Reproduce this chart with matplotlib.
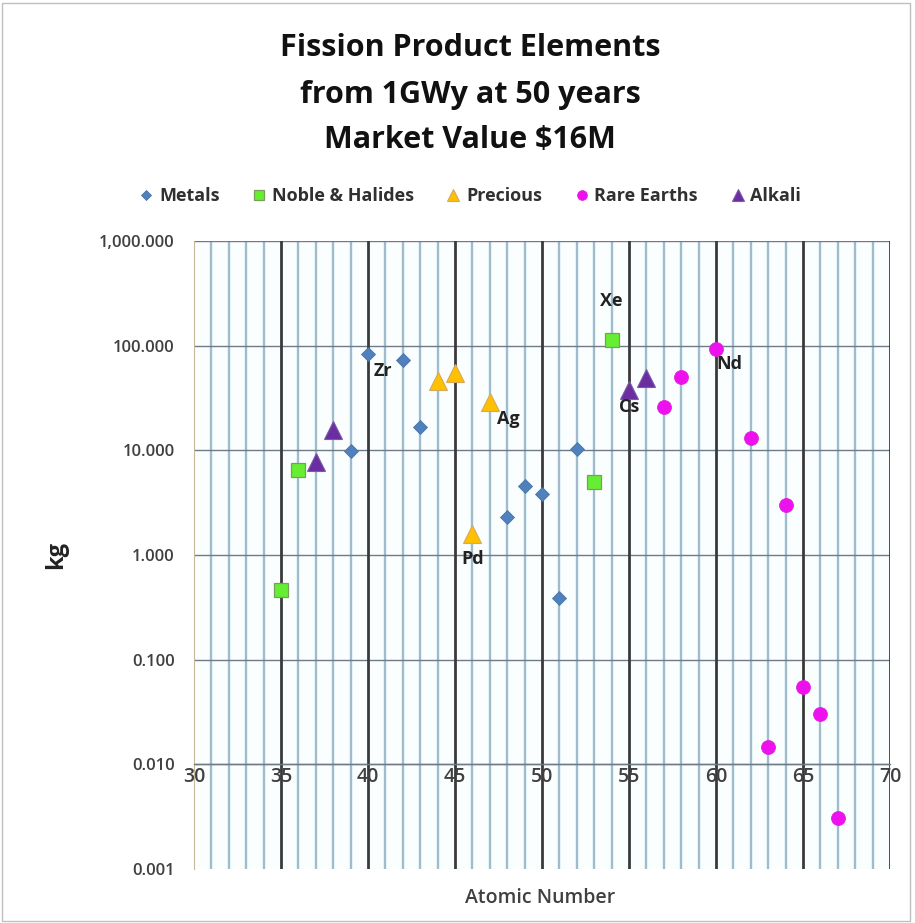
import matplotlib
matplotlib.use("Agg")
import matplotlib.pyplot as plt
import numpy as np
from matplotlib.patches import Rectangle

plt.rcParams['font.family'] = ['Open Sans', 'DejaVu Sans']

metals_x = [39, 40, 42, 43, 48, 49, 50, 51, 52]
metals_y = [9.9, 83, 73, 16.7, 2.3, 4.6, 3.8, 0.39, 10.3]
noble_x = [35, 36, 53, 54]
noble_y = [0.46, 6.5, 5.0, 113]
precious_x = [44, 45, 46, 47]
precious_y = [46, 55, 1.6, 29]
rare_x = [57, 58, 60, 62, 63, 64, 65, 66, 67]
rare_y = [26, 50, 93, 13, 0.0147, 3.0, 0.055, 0.030, 0.0031]
alkali_x = [37, 38, 55, 56]
alkali_y = [7.7, 15.7, 38, 49]

labels = {"Zr": (40, 83), "Xe": (54, 113), "Ag": (47, 29), "Pd": (46, 1.6),
          "Cs": (55, 38), "Nd": (60, 93)}
series_names = ["Metals", "Noble & Halides", "Precious", "Rare Earths", "Alkali"]
title_lines = ["Fission Product Elements", "from 1GWy at 50 years", "Market Value $16M"]
yticks = [0.001, 0.01, 0.1, 1, 10, 100, 1000]
ytick_labels = ["0.001", "0.010", "0.100", "1.000", "10.000", "100.000", "1,000.000"]
xticks = [30, 35, 40, 45, 50, 55, 60, 65, 70]

fig = plt.figure(figsize=(9.15, 9.23), dpi=100)
ax = fig.add_axes([194/915, 1-869/923, (890-194)/915, (869-241)/923])
ax.set_facecolor('#fbfeff')
ax.set_yscale('log')
ax.spines['bottom'].set_position(('data', 0.01))
ax.spines['bottom'].set_color('#6e7a86')
ax.spines['bottom'].set_linewidth(1.0)
ax.spines['top'].set_visible(False)
ax.spines['right'].set_visible(False)
ax.spines['left'].set_color('#c8b89a')
ax.spines['left'].set_linewidth(0.8)
ax.set_xlim(30, 70)
ax.set_ylim(0.001, 1000)

# gridlines
for xv in range(31, 70):
    if xv % 5 == 0:
        continue
    ax.axvline(xv, color='#e3f4fb', lw=3, zorder=0.5)
    ax.axvline(xv, color='#9db4c6', lw=1.3, zorder=0.6)
for xv in range(35, 71, 5):
    ax.axvline(xv, color='#3a3a3a', lw=2.0, zorder=0.8)
for yv in yticks[1:]:
    ax.axhline(yv, color='#6e7a86', lw=1.0, zorder=0.7)

ax.yaxis.set_minor_locator(matplotlib.ticker.NullLocator())
ax.xaxis.set_minor_locator(matplotlib.ticker.NullLocator())
ax.set_yticks(yticks)
ax.set_yticklabels(ytick_labels, fontsize=12, color='#404040', fontweight='semibold')
ax.set_xticks(xticks)
ax.set_xticklabels([str(v) for v in xticks], fontsize=14, color='#404040', fontweight='semibold')
ax.tick_params(axis='both', which='both', length=0)
ax.tick_params(axis='y', pad=14)
ax.tick_params(axis='x', pad=2)

h1, = ax.plot(metals_x, metals_y, 'D', ms=7.5, color='#4f81bd', mec='#4a74a8', mew=0.6, ls='none', zorder=3)
h2, = ax.plot(noble_x, noble_y, 's', ms=9.5, color='#66ee33', mec='#76a05a', mew=0.9, ls='none', zorder=3)
h3, = ax.plot(precious_x, precious_y, '^', ms=13, color='#ffc000', mec='#d6a85a', mew=0.8, ls='none', zorder=3)
h4, = ax.plot(rare_x, rare_y, 'o', ms=10, color='#ee11ee', mec='#dd22dd', mew=0.6, ls='none', zorder=3)
h5, = ax.plot(alkali_x, alkali_y, '^', ms=13, color='#6a2ea0', mec='#7a5aa8', mew=0.8, ls='none', zorder=3)

offsets = {"Zr": (4, -6, 'left', 'top'), "Xe": (0, 22, 'center', 'bottom'),
           "Ag": (5, -6, 'left', 'top'), "Pd": (0, -12, 'center', 'top'),
           "Cs": (0, -6, 'center', 'top'), "Nd": (0, -4, 'left', 'top')}
for name, (xv, yv) in labels.items():
    dx, dy, ha, va = offsets[name]
    ax.annotate(name, (xv, yv), xytext=(dx, dy), textcoords='offset points',
                ha=ha, va=va, fontsize=13, fontweight='bold', color='#222222', zorder=4)

ax.set_ylabel('kg', fontsize=17, fontweight='bold', color='#222222', labelpad=22)
fig.text(540/915, 1-898/923, 'Atomic Number', ha='center', va='center',
         fontsize=14, fontweight='semibold', color='#404040')

for i, (line, ypx) in enumerate(zip(title_lines, [48, 95, 140])):
    fig.text(470/915, 1-ypx/923, line, ha='center', va='center',
             fontsize=22, fontweight='bold', color='#111111')

leg = fig.legend([h1, h2, h3, h4, h5], series_names, loc='center',
                 bbox_to_anchor=(470/915, 1-196/923), ncol=5, frameon=False,
                 fontsize=13, handlelength=0.8, handletextpad=0.3,
                 columnspacing=1.8, markerscale=0.7)
for t in leg.get_texts():
    t.set_color('#303030')
    t.set_fontweight('bold')

fig.patches.append(Rectangle((0.002, 0.002), 0.993, 0.995, transform=fig.transFigure,
                             fill=False, ec='#bfbfbf', lw=1.0))

fig.savefig('out.png', dpi=100)
